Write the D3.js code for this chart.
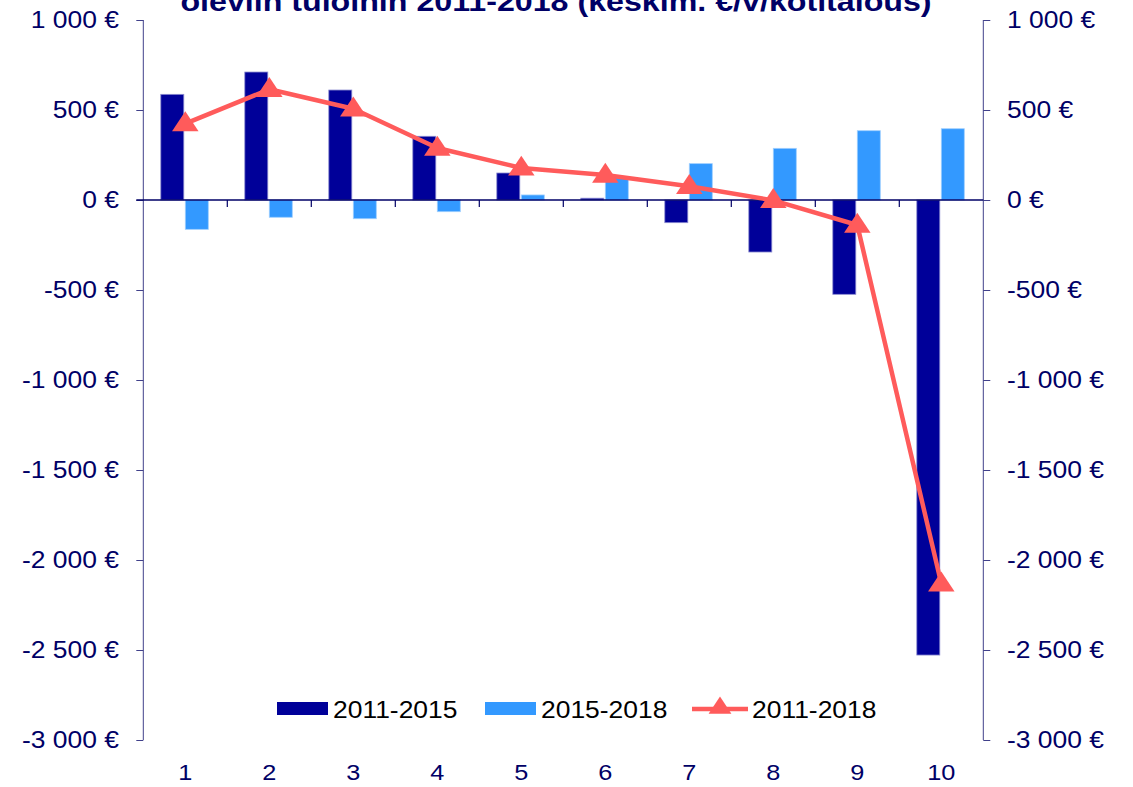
<!DOCTYPE html>
<html>
<head>
<meta charset="utf-8">
<script src="https://cdn.jsdelivr.net/npm/d3@7"></script>
<style>
  body { margin: 0; background: #fff; }
  svg { display: block; font-family: Arial, 'Liberation Sans', sans-serif; }
</style>
</head>
<body>
<svg></svg>
<script>
// data
const deciles = ['1', '2', '3', '4', '5', '6', '7', '8', '9', '10']
const change2011to2015 = [587, 711, 611, 354, 150, 10, -126, -289, -524, -2528]
const change2015to2018 = [-163, -96, -104, -65, 28, 129, 202, 287, 385, 396]
const change2011to2018 = [424, 615, 507, 289, 178, 139, 76, -2, -139, -2132]
const seriesNames = ['2011-2015', '2015-2018', '2011-2018']
const yTicks = [1000, 500, 0, -500, -1000, -1500, -2000, -2500, -3000]
const titleLine = 'oleviin tuloihin 2011-2018 (keskim. €/v/kotitalous)'

const w = 1133
const h = 787
const plotLeft = 143.3
const plotRight = 983.3
const plotTop = 20
const plotBottom = 740
const stretch = 1.15 // picture text looks wider than plain Arial

const navy = '#000066'
const dark = '#000099'
const light = '#3399ff'
const red = '#ff5b5b'

const svg = d3.select('svg')
  .attr('width', w)
  .attr('height', h)

const fi = d3.formatLocale({ decimal: ',', thousands: '\u00a0', grouping: [3], currency: ['', '\u00a0€'], minus: '-' })
const fmt = d => fi.format('$,')(d)

// scales
const x0 = d3.scaleBand().domain(deciles).range([plotLeft, plotRight])
const x1 = d3.scaleBand().domain(seriesNames.slice(0, 2)).range([17.5, 66.5])
const y = d3.scaleLinear().domain([-3000, 1000]).range([plotBottom, plotTop])

const place = (xx, yy) => `translate(${xx},${yy}) scale(${stretch},1)`

// title (only the lower line shows in the picture)
svg.append('text')
  .attr('transform', place(556, 11))
  .attr('text-anchor', 'middle')
  .style('font-size', '28px')
  .style('font-weight', 'bold')
  .style('fill', navy)
  .text(titleLine)

// left axis
const yAxisL = d3.axisLeft(y).tickValues(yTicks).tickSize(7).tickFormat('')
svg.append('g')
  .attr('transform', `translate(${plotLeft},0)`)
  .call(yAxisL)
  .call(g => g.select('.domain').attr('d', `M0,${plotTop}V${plotBottom}`).attr('stroke', '#40408a'))
  .call(g => g.selectAll('.tick line').attr('stroke', '#40408a'))

svg.append('g').selectAll('text')
  .data(yTicks)
  .enter()
  .append('text')
  .attr('transform', d => place(119, y(d) + 8))
  .attr('text-anchor', 'end')
  .style('font-size', '23px')
  .style('fill', navy)
  .text(fmt)

// right axis
const yAxisR = d3.axisRight(y).tickValues(yTicks).tickSize(7).tickFormat('')
svg.append('g')
  .attr('transform', `translate(${plotRight},0)`)
  .call(yAxisR)
  .call(g => g.select('.domain').attr('d', `M0,${plotTop}V${plotBottom}`).attr('stroke', '#40408a'))
  .call(g => g.selectAll('.tick line').attr('stroke', '#40408a'))

svg.append('g').selectAll('text')
  .data(yTicks)
  .enter()
  .append('text')
  .attr('transform', d => place(1007, y(d) + 8))
  .attr('text-anchor', 'start')
  .style('font-size', '23px')
  .style('fill', navy)
  .text(fmt)

// bars
const bars = svg.append('g')
const barSeries = [change2011to2015, change2015to2018]
const barColors = [dark, light]
barSeries.forEach((vals, s) => {
  bars.selectAll('.bar' + s)
    .data(vals)
    .enter()
    .append('rect')
    .attr('class', 'bar' + s)
    .attr('x', (d, i) => x0(deciles[i]) + x1(seriesNames[s]))
    .attr('width', x1.bandwidth() - 1.5)
    .attr('y', d => y(Math.max(0, d)))
    .attr('height', d => Math.abs(y(d) - y(0)))
    .attr('fill', barColors[s])
    .attr('stroke', s === 0 ? '#8c8cd0' : '#9fcfff')
    .attr('stroke-width', 0.8)
})

// zero line with category ticks
const xAxis = d3.axisBottom(x0).tickSize(0).tickFormat('')
svg.append('g')
  .attr('transform', `translate(0,${y(0)})`)
  .call(xAxis)
  .call(g => g.select('.domain').attr('d', `M${plotLeft - 7},0H${plotRight}`).attr('stroke', navy).attr('stroke-width', 1.4))

svg.append('g').selectAll('line')
  .data(deciles.slice(1))
  .enter()
  .append('line')
  .attr('x1', d => x0(d))
  .attr('x2', d => x0(d))
  .attr('y1', y(0))
  .attr('y2', y(0) + 7)
  .attr('stroke', navy)
  .attr('stroke-width', 1.2)

// category labels
svg.append('g').selectAll('text')
  .data(deciles)
  .enter()
  .append('text')
  .attr('transform', d => place(x0(d) + x0.bandwidth() / 2, 780))
  .attr('text-anchor', 'middle')
  .style('font-size', '22px')
  .style('fill', navy)
  .text(d => d)

// line series
const cx = i => x0(deciles[i]) + x0.bandwidth() / 2
const line = d3.line()
  .x((d, i) => cx(i))
  .y(d => y(d))

svg.append('path')
  .datum(change2011to2018)
  .attr('d', line)
  .attr('fill', 'none')
  .attr('stroke', red)
  .attr('stroke-width', 4.5)
  .attr('stroke-linejoin', 'round')

const tri = d3.symbol().type(d3.symbolTriangle).size(230)
svg.append('g').selectAll('path')
  .data(change2011to2018)
  .enter()
  .append('path')
  .attr('transform', (d, i) => `translate(${cx(i)},${y(d) + 1}) scale(1.15,1)`)
  .attr('d', tri)
  .attr('fill', red)

// legend
const legend = svg.append('g')
  .attr('transform', 'translate(277,702)')

seriesNames.forEach((name, i) => {
  const g = legend.append('g').attr('transform', `translate(${i * 208},0)`)
  if (i < 2) {
    g.append('rect')
      .attr('width', 51)
      .attr('height', 13)
      .attr('fill', barColors[i])
  } else {
    g.append('line')
      .attr('x1', -1).attr('x2', 55)
      .attr('y1', 7).attr('y2', 7)
      .attr('stroke', red)
      .attr('stroke-width', 4.5)
    g.append('path')
      .attr('transform', 'translate(27,6) scale(1.15,1)')
      .attr('d', d3.symbol().type(d3.symbolTriangle).size(170))
      .attr('fill', red)
  }
  g.append('text')
    .attr('transform', place(i < 2 ? 56 : 59, 16))
    .style('font-size', '23px')
    .style('fill', '#000')
    .text(name)
})
</script>
</body>
</html>
